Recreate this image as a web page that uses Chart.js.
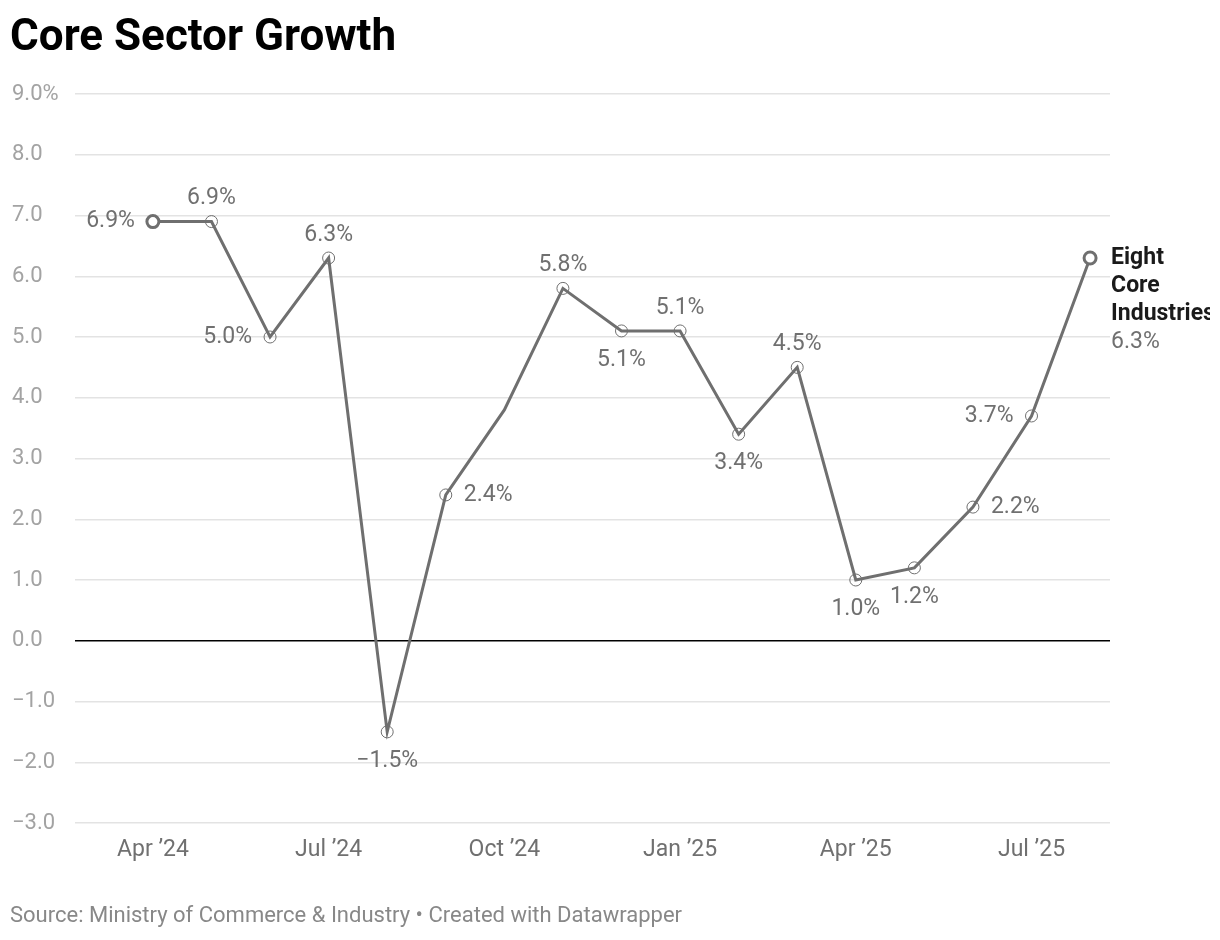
<!DOCTYPE html>
<html>
<head>
<meta charset="utf-8">
<script src="https://cdn.jsdelivr.net/npm/chart.js@4"></script>
<style>
  html, body { margin: 0; background: #fff; }
  #wrap { width: 1210px; height: 940px; overflow: hidden; position: relative; }
</style>
</head>
<body>
<div id="wrap"><canvas id="coreChart"></canvas></div>
<script>
// monthly core sector growth, Apr 2024 - Aug 2025
var months = ['Apr 2024', 'May 2024', 'Jun 2024', 'Jul 2024', 'Aug 2024', 'Sep 2024', 'Oct 2024', 'Nov 2024',
    'Dec 2024', 'Jan 2025', 'Feb 2025', 'Mar 2025', 'Apr 2025', 'May 2025', 'Jun 2025', 'Jul 2025', 'Aug 2025'];
var growth = [6.9, 6.9, 5.0, 6.3, -1.5, 2.4, 3.8, 5.8, 5.1, 5.1, 3.4, 4.5, 1.0, 1.2, 2.2, 3.7, 6.3];
var tickIndex = [0, 3, 6, 9, 12, 15];
var tickLabels = ['Apr \u201924', 'Jul \u201924', 'Oct \u201924', 'Jan \u201925', 'Apr \u201925', 'Jul \u201925'];
var seriesName = ['Eight', 'Core', 'Industries'];
// where each value label sits (null = no label / no marker)
var labelSide = ['left', 'top', 'left', 'top', 'bottom', 'right', null, 'top', 'bottom', 'top', 'bottom', 'top',
    'bottom', 'bottom', 'right', 'left', 'end'];

var LINE = '#6f6f6f';

function fmt(v) {
    return (v < 0 ? '\u2212' : '') + Math.abs(v).toFixed(1);
}

var textPlugin = {
    id: 'texts',
    afterDatasetsDraw: function (chart) {
        var ctx = chart.ctx;
        var pts = chart.getDatasetMeta(0).data;
        ctx.save();
        ctx.textBaseline = 'middle';
        pts.forEach(function (p, i) {
            var side = labelSide[i];
            if (!side) return;
            var txt = fmt(growth[i]) + '%';
            ctx.font = '23px Roboto';
            ctx.fillStyle = '#707070';
            if (side === 'left') {
                ctx.textAlign = 'right';
                ctx.fillText(txt, p.x - 18, p.y);
            } else if (side === 'right') {
                ctx.textAlign = 'left';
                ctx.fillText(txt, p.x + 18, p.y);
            } else if (side === 'top') {
                ctx.textAlign = 'center';
                ctx.fillText(txt, p.x, p.y - 23);
            } else if (side === 'bottom') {
                ctx.textAlign = 'center';
                ctx.fillText(txt, p.x, p.y + 29);
            } else if (side === 'end') {
                ctx.textAlign = 'left';
                ctx.font = 'bold 23px Roboto';
                ctx.fillStyle = '#1a1a1a';
                seriesName.forEach(function (w, k) {
                    ctx.fillText(w, p.x + 21, p.y + k * 28);
                });
                ctx.font = '23px Roboto';
                ctx.fillStyle = '#707070';
                ctx.fillText(txt, p.x + 21, p.y + seriesName.length * 28);
            }
        });
        ctx.restore();
    },
    afterDraw: function (chart) {
        var ctx = chart.ctx;
        ctx.save();
        ctx.textAlign = 'left';
        ctx.textBaseline = 'alphabetic';
        ctx.font = 'bold 44px Roboto';
        ctx.fillStyle = '#000';
        ctx.fillText('Core Sector Growth', 10, 50);
        ctx.textBaseline = 'middle';
        ctx.font = '22px Roboto';
        ctx.fillStyle = '#888';
        ctx.fillText('Source: Ministry of Commerce & Industry \u2022 Created with Datawrapper', 10, 916);
        ctx.restore();
    }
};

Chart.defaults.font.family = 'Roboto';

new Chart(document.getElementById('coreChart'), {
    type: 'line',
    data: {
        labels: months,
        datasets: [{
            label: 'Eight Core Industries',
            data: growth.map(function (v, i) {
                return {x: i, y: v};
            }),
            borderColor: LINE,
            borderWidth: 3,
            tension: 0,
            pointRadius: function (c) {
                return labelSide[c.dataIndex] ? 6 : 0;
            },
            pointBorderWidth: function (c) {
                return (c.dataIndex === 0 || c.dataIndex === growth.length - 1) ? 3 : 1;
            },
            pointBackgroundColor: function (c) {
                return (c.dataIndex === 0 || c.dataIndex === growth.length - 1) ? '#fff' : 'rgba(255,255,255,0)';
            },
            pointBorderColor: LINE
        }]
    },
    options: {
        responsive: true,
        maintainAspectRatio: false,
        animation: false,
        events: [],
        layout: {
            padding: {left: 12, right: 100, top: 94, bottom: 57}
        },
        plugins: {
            legend: {display: false},
            tooltip: {enabled: false}
        },
        scales: {
            x: {
                type: 'linear',
                min: -1.33,
                max: 16.34,
                grid: {display: false, drawTicks: false},
                border: {display: false},
                afterBuildTicks: function (s) {
                    s.ticks = tickIndex.map(function (v) {
                        return {value: v};
                    });
                },
                afterFit: function (s) {
                    s.height = 60;
                },
                ticks: {
                    autoSkip: false,
                    maxRotation: 0,
                    padding: 13,
                    color: '#707070',
                    font: {size: 23},
                    callback: function (v) {
                        return tickLabels[tickIndex.indexOf(v)];
                    }
                }
            },
            y: {
                min: -3,
                max: 9,
                grid: {
                    drawTicks: false,
                    color: function (c) {
                        return c.tick && c.tick.value === 0 ? '#000' : '#e3e3e3';
                    },
                    lineWidth: 1.5
                },
                border: {display: false},
                afterFit: function (s) {
                    s.width = 63;
                },
                ticks: {
                    stepSize: 1,
                    crossAlign: 'far',
                    padding: 0,
                    color: '#a3a3a3',
                    font: {size: 22},
                    callback: function (v) {
                        return v === 9 ? '9.0%' : fmt(v);
                    }
                }
            }
        }
    },
    plugins: [textPlugin]
});
</script>
</body>
</html>
